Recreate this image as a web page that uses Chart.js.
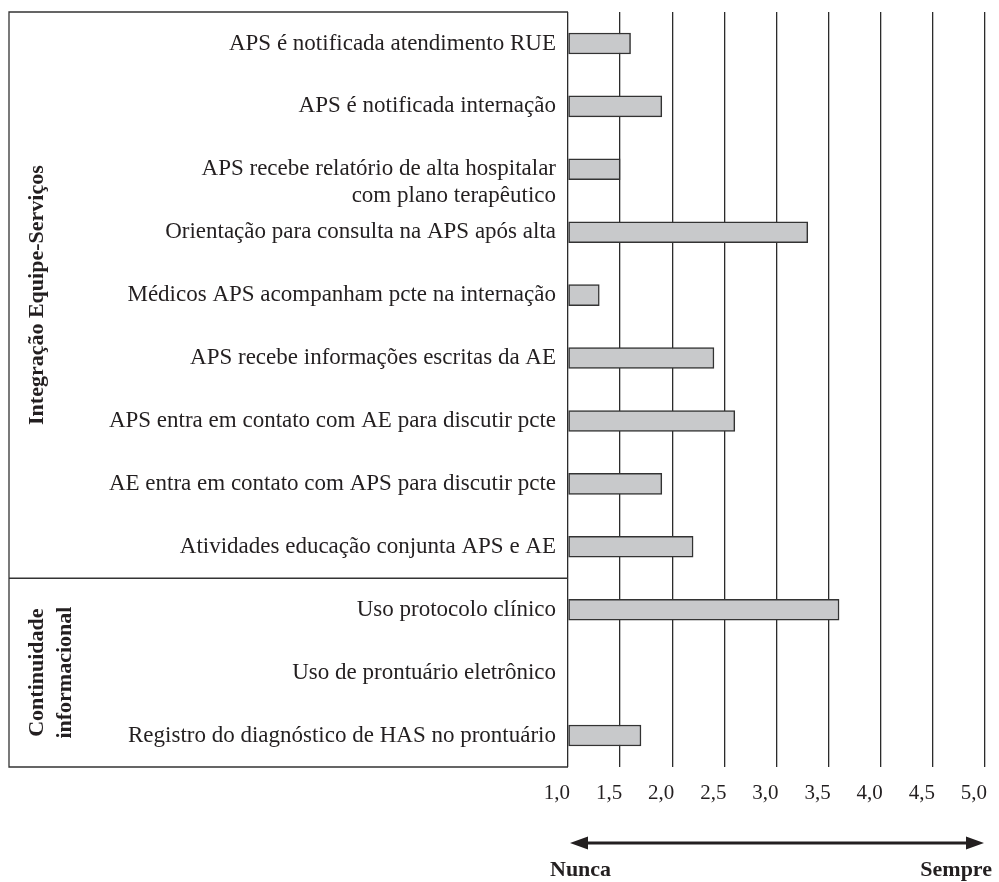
<!DOCTYPE html>
<html lang="pt-BR">
<head>
<meta charset="utf-8">
<title>Integração Equipe-Serviços e Continuidade informacional</title>
<script src="https://cdn.jsdelivr.net/npm/chart.js@4.4.1/dist/chart.umd.min.js"></script>
<style>
  html, body { margin: 0; padding: 0; background: #fff; }
  #wrap { width: 999px; height: 882px; position: relative; }
</style>
</head>
<body>
<div id="wrap"><canvas id="chart"></canvas></div>
<script>
const categories = [
  'APS é notificada atendimento RUE',
  'APS é notificada internação',
  ['APS recebe relatório de alta hospitalar', 'com plano terapêutico'],
  'Orientação para consulta na APS após alta',
  'Médicos APS acompanham pcte na internação',
  'APS recebe informações escritas da AE',
  'APS entra em contato com AE para discutir pcte',
  'AE entra em contato com APS para discutir pcte',
  'Atividades educação conjunta APS e AE',
  'Uso protocolo clínico',
  'Uso de prontuário eletrônico',
  'Registro do diagnóstico de HAS no prontuário'
];
const scores = [1.6, 1.9, 1.5, 3.3, 1.3, 2.4, 2.6, 1.9, 2.2, 3.6, null, 1.7];
const groupNames = [['Integração Equipe-Serviços'], ['Continuidade', 'informacional']];
const groupFirst = [0, 9];
const groupLast = [8, 11];
const tickLabels = ['1,0', '1,5', '2,0', '2,5', '3,0', '3,5', '4,0', '4,5', '5,0'];
const scaleEnds = ['Nunca', 'Sempre'];

const ink = '#231f20';
const serif = '"Liberation Serif", "DejaVu Serif", serif';

// frame round the labels, group titles and the Nunca/Sempre arrow
const frame = {
  id: 'frame',
  afterDraw(chart) {
    const {ctx, chartArea: a, scales: {x, y}} = chart;
    const step = y.getPixelForValue(1) - y.getPixelForValue(0);
    const boxLeft = 9;

    ctx.save();
    ctx.strokeStyle = '#333';
    ctx.lineWidth = 1.3;
    ctx.beginPath();
    ctx.moveTo(a.left, a.top);
    ctx.lineTo(boxLeft, a.top);
    ctx.lineTo(boxLeft, a.bottom);
    ctx.lineTo(a.left, a.bottom);
    for (let g = 1; g < groupFirst.length; g++) {
      const cut = y.getPixelForValue(groupFirst[g]) - step / 2;
      ctx.moveTo(boxLeft, cut);
      ctx.lineTo(a.left, cut);
    }
    ctx.stroke();

    // group titles, rotated
    ctx.fillStyle = ink;
    ctx.font = 'bold 22px ' + serif;
    ctx.textAlign = 'center';
    ctx.textBaseline = 'alphabetic';
    groupNames.forEach((lines, g) => {
      const top = y.getPixelForValue(groupFirst[g]) - step / 2;
      const bottom = y.getPixelForValue(groupLast[g]) + step / 2;
      lines.forEach((line, k) => {
        ctx.save();
        ctx.translate(43 + k * 28, (top + bottom) / 2);
        ctx.rotate(-Math.PI / 2);
        ctx.fillText(line, 0, 0);
        ctx.restore();
      });
    });

    // double arrow under the axis
    const ay = 843;
    const x1 = x.getPixelForValue(1) + 2;
    const x2 = x.getPixelForValue(5) - 1;
    ctx.strokeStyle = ink;
    ctx.lineWidth = 3;
    ctx.beginPath();
    ctx.moveTo(x1 + 10, ay);
    ctx.lineTo(x2 - 10, ay);
    ctx.stroke();
    ctx.beginPath();
    ctx.moveTo(x1, ay);
    ctx.lineTo(x1 + 18, ay - 6.5);
    ctx.lineTo(x1 + 18, ay + 6.5);
    ctx.closePath();
    ctx.moveTo(x2, ay);
    ctx.lineTo(x2 - 18, ay - 6.5);
    ctx.lineTo(x2 - 18, ay + 6.5);
    ctx.closePath();
    ctx.fill();

    ctx.font = 'bold 22px ' + serif;
    ctx.textBaseline = 'middle';
    ctx.textAlign = 'left';
    ctx.fillText(scaleEnds[0], x.getPixelForValue(1) - 18, 870);
    ctx.textAlign = 'right';
    ctx.fillText(scaleEnds[1], x.getPixelForValue(5) + 7, 870);
    ctx.restore();
  }
};

new Chart(document.getElementById('chart'), {
  type: 'bar',
  data: {
    labels: categories,
    datasets: [{
      data: scores,
      base: 1,
      backgroundColor: '#c8c9cb',
      borderColor: '#333',
      borderWidth: 1.5,
      borderSkipped: false,
      barThickness: 21
    }]
  },
  options: {
    indexAxis: 'y',
    responsive: true,
    maintainAspectRatio: false,
    animation: false,
    layout: { padding: { top: 12, right: 11, bottom: 0, left: 0 } },
    plugins: {
      legend: { display: false },
      tooltip: { enabled: false }
    },
    scales: {
      x: {
        min: 1,
        max: 5,
        afterFit: (s) => { s.height = 115; },
        ticks: {
          stepSize: 0.5,
          autoSkip: false,
          align: 'end',
          padding: 14,
          labelOffset: 2,
          color: ink,
          font: { family: serif, size: 21 },
          callback: (v, i) => tickLabels[i]
        },
        grid: { color: '#2b2b2b', lineWidth: 1.3, drawTicks: false },
        border: { display: false }
      },
      y: {
        afterFit: (s) => {
          s.width = 568;
          // no extra room above/below for the label heights
          s.paddingTop = 0;
          s.paddingBottom = 0;
        },
        ticks: {
          autoSkip: false,
          padding: 12,
          color: ink,
          font: { family: serif, size: 23, lineHeight: 1.17 },
          // blank first line keeps the first text line level with its bar
          callback: (v, i) => Array.isArray(categories[i]) ? [''].concat(categories[i]) : categories[i]
        },
        grid: { display: false, drawTicks: false },
        border: { display: false }
      }
    }
  },
  plugins: [frame]
});
</script>
</body>
</html>
